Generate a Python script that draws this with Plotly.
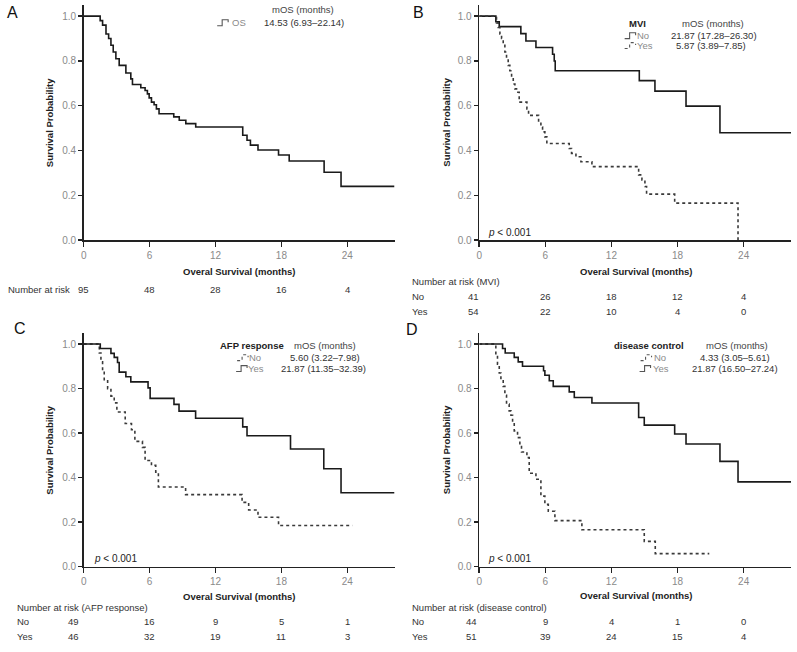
import plotly.graph_objects as go

W, H = 797, 652

# ---------------- data ----------------
# Panel A: overall survival
A_time = [0, 1.5, 1.72, 2.03, 2.27, 2.48, 2.69, 2.93, 3.23, 3.84, 4.29, 4.44, 5.2, 5.59, 5.8, 5.96,
          6.17, 6.41, 6.62, 6.86, 8.2, 8.7, 9.3, 10.2, 14.48, 14.87, 15.18, 15.87, 17.74, 18.71,
          21.89, 23.43, 28.3]
A_surv = [1.0, 0.98, 0.96, 0.92, 0.90, 0.87, 0.84, 0.81, 0.78, 0.746, 0.72, 0.695, 0.68, 0.668,
          0.653, 0.635, 0.616, 0.604, 0.586, 0.564, 0.55, 0.535, 0.52, 0.505, 0.468, 0.446, 0.424,
          0.402, 0.38, 0.353, 0.303, 0.24, 0.24]

# Panel B: MVI
B_no_time = [0, 1.51, 1.82, 3.78, 4.24, 5.15, 6.66, 6.81, 6.9, 14.53, 15.95, 18.77, 21.85, 28.3]
B_no_surv = [1.0, 0.975, 0.953, 0.922, 0.889, 0.86, 0.83, 0.80, 0.756, 0.712, 0.665, 0.598, 0.479, 0.479]
B_yes_time = [0, 1.57, 1.73, 1.88, 2.03, 2.18, 2.33, 2.48, 2.63, 2.78, 2.94, 3.09, 3.24, 3.39, 3.63,
              4.33, 4.48, 5.39, 5.6, 5.75, 5.96, 6.14, 8.17, 8.38, 8.78, 9.23, 10.23, 14.47, 14.77,
              15.04, 15.19, 17.74, 23.49]
B_yes_surv = [1.0, 0.97, 0.95, 0.92, 0.90, 0.87, 0.84, 0.81, 0.78, 0.756, 0.727, 0.697, 0.675, 0.66,
              0.616, 0.586, 0.557, 0.527, 0.505, 0.483, 0.461, 0.431, 0.409, 0.387, 0.372, 0.35,
              0.328, 0.291, 0.269, 0.239, 0.205, 0.165, 0.0]

# Panel C: AFP response
C_no_time = [0, 1.42, 1.57, 1.72, 1.87, 2.18, 2.48, 2.78, 3.02, 3.78, 4.35, 4.66, 5.35, 5.59, 6.17,
             6.56, 6.8, 9.28, 14.42, 15.02, 15.87, 17.74, 24.46]
C_no_surv = [1.0, 0.96, 0.92, 0.88, 0.84, 0.80, 0.766, 0.736, 0.695, 0.643, 0.615, 0.563, 0.536,
             0.477, 0.455, 0.425, 0.358, 0.324, 0.289, 0.255, 0.222, 0.185, 0.185]
C_yes_time = [0, 1.51, 2.48, 2.78, 3.08, 3.23, 3.84, 4.29, 5.86, 6.05, 8.22, 8.68, 10.19, 14.48,
              14.87, 18.83, 21.86, 23.43, 28.3]
C_yes_surv = [1.0, 0.98, 0.958, 0.94, 0.917, 0.874, 0.853, 0.83, 0.803, 0.756, 0.729, 0.699, 0.667,
              0.628, 0.588, 0.529, 0.44, 0.332, 0.332]

# Panel D: disease control
D_no_time = [0, 1.51, 1.66, 1.82, 1.97, 2.18, 2.33, 2.48, 2.72, 2.88, 3.03, 3.18, 3.48, 3.69, 3.84,
             4.33, 4.54, 5.15, 5.6, 5.96, 6.27, 6.87, 9.32, 14.98, 15.98, 20.88]
D_no_surv = [1.0, 0.95, 0.91, 0.87, 0.84, 0.81, 0.77, 0.73, 0.70, 0.68, 0.655, 0.61, 0.58, 0.545,
             0.515, 0.49, 0.42, 0.393, 0.317, 0.28, 0.249, 0.207, 0.166, 0.114, 0.059, 0.059]
D_yes_time = [0, 2.12, 2.36, 3.18, 3.54, 3.93, 5.84, 5.96, 6.36, 6.72, 8.17, 8.63, 10.23, 14.47,
              14.98, 17.74, 18.77, 21.85, 23.49, 28.3]
D_yes_surv = [1.0, 0.98, 0.96, 0.94, 0.92, 0.90, 0.88, 0.86, 0.835, 0.81, 0.785, 0.76, 0.735, 0.67,
              0.636, 0.596, 0.551, 0.473, 0.381, 0.381]

# Number at risk
risk_times = [0, 6, 12, 18, 24]
A_risk = [95, 48, 28, 16, 4]
B_risk_no = [41, 26, 18, 12, 4]
B_risk_yes = [54, 22, 10, 4, 0]
C_risk_no = [49, 16, 9, 5, 1]
C_risk_yes = [46, 32, 19, 11, 3]
D_risk_no = [44, 9, 4, 1, 0]
D_risk_yes = [51, 39, 24, 15, 4]

x_ticks = [0, 6, 12, 18, 24]
y_ticks = [0.0, 0.2, 0.4, 0.6, 0.8, 1.0]

# ---------------- helpers ----------------
FONT = "Liberation Sans, Arial, sans-serif"
DARK = "#222222"
TXT = "#333333"
GRAY = "#8a8a8a"


def px(x):
    return x / W


def py(y):
    return 1 - y / H


fig = go.Figure()

SOLID = dict(color="#1a1a1a", width=1.6, shape="hv")
DOT = dict(color="#3a3a3a", width=1.6, shape="hv", dash="dot")


def add_curve(t, s, axis_idx, style):
    suffix = "" if axis_idx == 1 else str(axis_idx)
    fig.add_trace(go.Scatter(x=t, y=s, mode="lines", line=style, showlegend=False,
                             xaxis="x" + suffix, yaxis="y" + suffix, hoverinfo="skip"))


add_curve(A_time, A_surv, 1, SOLID)
add_curve(B_no_time, B_no_surv, 2, SOLID)
add_curve(B_yes_time, B_yes_surv, 2, DOT)
add_curve(C_no_time, C_no_surv, 3, DOT)
add_curve(C_yes_time, C_yes_surv, 3, SOLID)
add_curve(D_no_time, D_no_surv, 4, DOT)
add_curve(D_yes_time, D_yes_surv, 4, SOLID)

# panel domains (pixels)
panels = {
    1: dict(x=(81, 393), y=(5, 242.3)),
    2: dict(x=(478, 791), y=(5, 242.3)),
    3: dict(x=(81, 393), y=(336, 572)),
    4: dict(x=(478, 791), y=(336, 572)),
}

layout = dict(
    width=W, height=H,
    margin=dict(l=0, r=0, t=0, b=0),
    paper_bgcolor="white", plot_bgcolor="white",
    font=dict(family=FONT, size=10, color=TXT),
    showlegend=False,
)

for i, p in panels.items():
    suffix = "" if i == 1 else str(i)
    layout["xaxis" + suffix] = dict(
        domain=[px(p["x"][0]), px(p["x"][1])],
        anchor="y" + suffix,
        range=[0, 28.3], tickvals=x_ticks,
        showline=True, linecolor=DARK, linewidth=1.5,
        ticks="outside", ticklen=5, tickwidth=1.5, tickcolor=DARK,
        tickfont=dict(size=10, color=GRAY, family=FONT),
        showgrid=False, zeroline=False, fixedrange=True,
    )
    layout["yaxis" + suffix] = dict(
        domain=[py(p["y"][1]), py(p["y"][0])],
        anchor="x" + suffix,
        range=[0, 1.05], tickvals=y_ticks, tickformat=".1f",
        showline=True, linecolor=DARK, linewidth=1.5,
        ticks="outside", ticklen=4, tickwidth=1.5, tickcolor=DARK,
        tickfont=dict(size=10, color=GRAY, family=FONT),
        showgrid=False, zeroline=False, fixedrange=True,
    )

annotations = []
shapes = []


def text(x, y, s, size=9.5, color=TXT, xanchor="center", angle=0, **kw):
    annotations.append(dict(x=px(x), y=py(y), xref="paper", yref="paper", text=s,
                            showarrow=False, xanchor=xanchor, yanchor="middle",
                            textangle=angle, font=dict(size=size, color=color, family=FONT), **kw))


def glyph(x0, y, dotted):
    path = (f"M{px(x0)},{py(y + 3)} L{px(x0 + 5)},{py(y + 3)} L{px(x0 + 5)},{py(y - 3)} "
            f"L{px(x0 + 11)},{py(y - 3)} L{px(x0 + 11)},{py(y - 0.5)}")
    shapes.append(dict(type="path", path=path, xref="paper", yref="paper",
                       line=dict(color="#555555", width=1.1, dash="dot" if dotted else "solid")))


def risk_row(values, axis_idx, y, first_shift=0):
    suffix = "" if axis_idx == 1 else str(axis_idx)
    for k, (t, v) in enumerate(zip(risk_times, values)):
        annotations.append(dict(x=t, y=py(y), xref="x" + suffix, yref="paper", text=str(v),
                                showarrow=False, xanchor="center", yanchor="middle",
                                xshift=first_shift if k == 0 else 0,
                                font=dict(size=9.5, color=TXT, family=FONT)))


# panel letters
text(10, 13, "A", size=16, color="#111")
text(417, 13, "B", size=16, color="#111")
text(17, 332, "C", size=16, color="#111")
text(411, 333, "D", size=16, color="#111")

# axis titles
for (cx, cy) in [(47, 123.5), (445, 123.5), (47, 454), (445, 454)]:
    text(cx, cy, "<b>Survival Probability</b>", size=9.5, color=DARK, angle=-90)
for (cx, cy) in [(237, 274), (635, 274), (237, 602), (635, 601)]:
    text(cx, cy, "<b>Overal Survival (months)</b>", size=9.5, color=DARK)

# legends
# A
text(301, 10, "mOS (months)", color="#444")
glyph(215, 23, False)
text(228, 23, "OS", color=GRAY, xanchor="left")
text(302, 23, "14.53 (6.93\u201322.14)")
# B
text(637, 24, "<b>MVI</b>", color=DARK)
text(713, 24, "mOS (months)", color="#444")
glyph(624, 36, False)
text(634, 36, "No", color=GRAY, xanchor="left")
text(714, 36, "21.87 (17.28\u201326.30)")
glyph(624, 46, True)
text(634, 46, "Yes", color=GRAY, xanchor="left")
text(711, 46, "5.87 (3.89\u20137.85)")
# C
text(250, 349, "<b>AFP response</b>", color=DARK)
text(323, 349, "mOS (months)", color="#444")
glyph(235, 361, True)
text(245, 361, "No", color=GRAY, xanchor="left")
text(323, 361, "5.60 (3.22\u20137.98)")
glyph(234, 372, False)
text(244, 372, "Yes", color=GRAY, xanchor="left")
text(322, 372, "21.87 (11.35\u201332.39)")
# D
text(648, 349, "<b>disease control</b>", color=DARK)
text(737, 349, "mOS (months)", color="#444")
glyph(640, 361, True)
text(651, 361, "No", color=GRAY, xanchor="left")
text(735, 361, "4.33 (3.05\u20135.61)")
glyph(639, 372, False)
text(650, 372, "Yes", color=GRAY, xanchor="left")
text(735, 372, "21.87 (16.50\u201327.24)")

# p values
text(485, 235, "<i>p</i> < 0.001", size=10, color=DARK, xanchor="left")
text(89, 564, "<i>p</i> < 0.001", size=10, color=DARK, xanchor="left")
text(485, 564, "<i>p</i> < 0.001", size=10, color=DARK, xanchor="left")

# number at risk tables
text(3, 292, "Number at risk", xanchor="left")
risk_row(A_risk, 1, 292)

text(409, 284, "Number at risk (MVI)", xanchor="left")
text(409, 299, "No", xanchor="left")
text(409, 314, "Yes", xanchor="left")
risk_row(B_risk_no, 2, 299, first_shift=-6)
risk_row(B_risk_yes, 2, 314, first_shift=-6)

text(12, 613, "Number at risk (AFP response)", xanchor="left")
text(12, 627, "No", xanchor="left")
text(12, 642, "Yes", xanchor="left")
risk_row(C_risk_no, 3, 627, first_shift=-10)
risk_row(C_risk_yes, 3, 642, first_shift=-10)

text(409, 613, "Number at risk (disease control)", xanchor="left")
text(409, 627, "No", xanchor="left")
text(409, 642, "Yes", xanchor="left")
risk_row(D_risk_no, 4, 627, first_shift=-8)
risk_row(D_risk_yes, 4, 642, first_shift=-8)

layout["annotations"] = annotations
layout["shapes"] = shapes
fig.update_layout(**layout)

fig.write_html("out.html",
               config={"displayModeBar": False, "staticPlot": True},
               post_script="document.body.style.margin='0';document.body.style.padding='0';")
